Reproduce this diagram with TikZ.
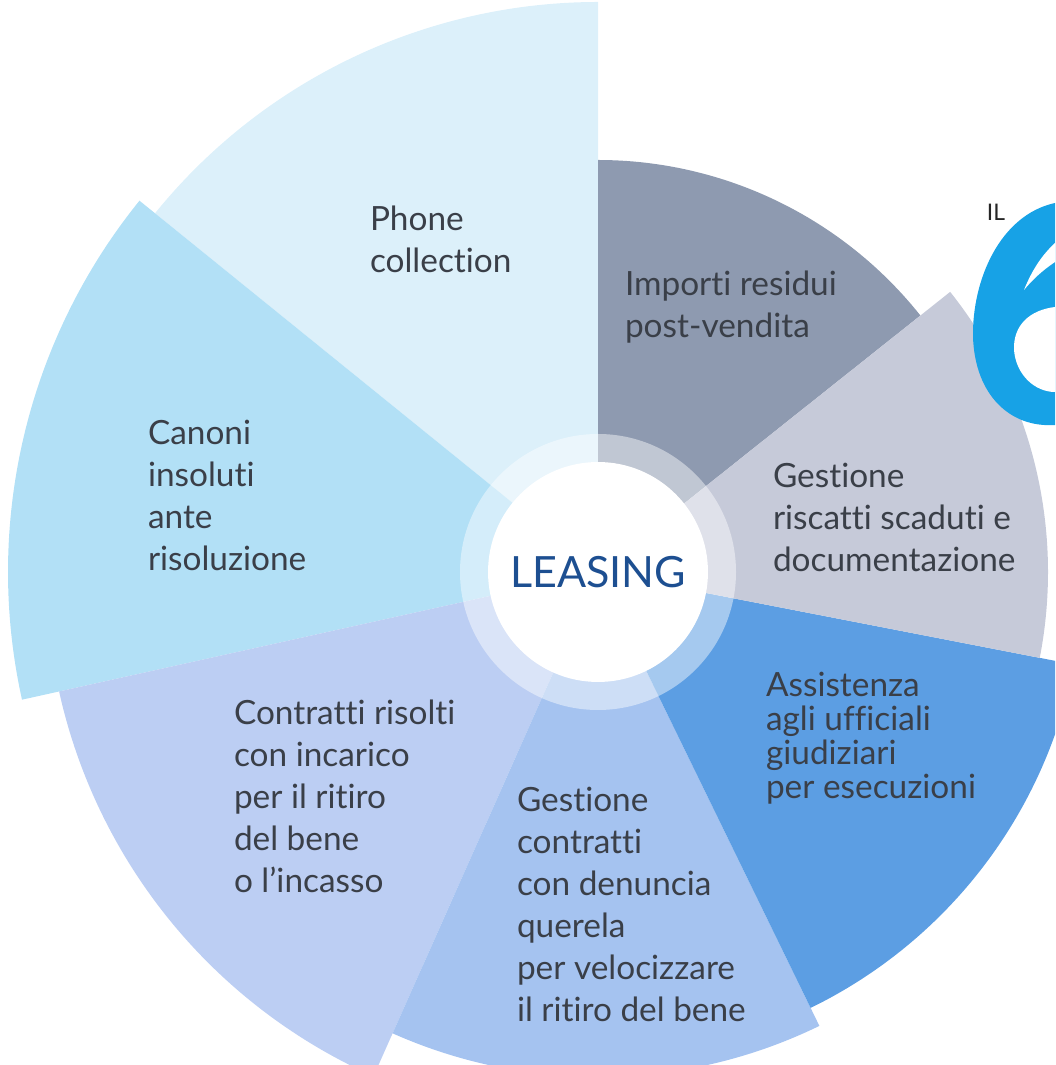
\documentclass[tikz,border=0pt]{standalone}
\usepackage{fontspec}
\setmainfont{Lato}[Ligatures=NoCommon]
\usepackage{xcolor}

\definecolor{phonefill}{HTML}{DCF0FA}
\definecolor{canonifill}{HTML}{B2E0F6}
\definecolor{risoltifill}{HTML}{BCCEF3}
\definecolor{querelafill}{HTML}{A5C3F0}
\definecolor{ufficialifill}{HTML}{5C9EE3}
\definecolor{riscattifill}{HTML}{C6CAD9}
\definecolor{importifill}{HTML}{8E9AB0}
\definecolor{inkgray}{HTML}{3A3F48}
\definecolor{leasingblue}{HTML}{1D4F91}
\definecolor{logocyan}{HTML}{17A2E6}

\newcommand{\wedgefont}{\fontsize{19}{24}\selectfont}

\begin{document}
\begin{tikzpicture}[x=0.02cm, y=0.02cm, outer sep=0pt]
\tikzstyle{wedgetext}=[
                  anchor=base west,
                  align=left,
                  inner sep=0pt,
                  text=inkgray,
                  font=\wedgefont]

\tikzstyle{hub}=[
                  circle,
                  fill=white,
                  minimum size=4.4cm,
                  inner sep=0pt,
                  text=leasingblue,
                  font=\fontsize{24.5}{28}\selectfont]

\useasboundingbox (0,0) rectangle (1055,1065);
\clip (0,0) rectangle (1055,1065);
\coordinate (hubc) at (598,493);

% slices, counter-clockwise from the top
\fill[phonefill]     (hubc) -- +(90:570)    arc[start angle=90,    end angle=141,   radius=570] -- cycle;
\fill[canonifill]    (hubc) -- +(141:590)   arc[start angle=141,   end angle=192.5, radius=590] -- cycle;
\fill[risoltifill]   (hubc) -- +(192.5:552) arc[start angle=192.5, end angle=246,   radius=552] -- cycle;
\fill[querelafill]   (hubc) -- +(246:505)   arc[start angle=246,   end angle=296,   radius=505] -- cycle;
\fill[ufficialifill] (hubc) -- +(296:485)   arc[start angle=296,   end angle=349,   radius=485] -- cycle;
\fill[importifill]   (hubc) -- +(38.5:412)  arc[start angle=38.5,  end angle=90,    radius=412] -- cycle;
\fill[riscattifill]  (hubc) -- +(-11:450)   arc[start angle=-11,   end angle=38.5,  radius=450] -- cycle;

% soft rim round the hub
\fill[white, opacity=0.45] (hubc) circle[radius=138];
\node[hub] (leasing) at (hubc) {LEASING};

% base west = baseline of the last line
\node[wedgetext] (phone)     at (370,792)  {Phone\\collection};
\node[wedgetext] (importi)   at (625,727)  {Importi residui\\post-vendita};
\node[wedgetext] (riscatti)  at (773,493)  {Gestione\\riscatti scaduti e\\documentazione};
\node[wedgetext] (canoni)    at (148,494)  {Canoni\\insoluti\\ante\\risoluzione};
\node[wedgetext, font=\fontsize{19}{19.5}\selectfont]
                 (ufficiali) at (766,266)  {Assistenza\\agli ufficiali\\giudiziari\\per esecuzioni};
\node[wedgetext] (risolti)   at (234,172)  {Contratti risolti\\con incarico\\per il ritiro\\del bene\\o l’incasso};
\node[wedgetext] (querela)   at (517,43)   {Gestione\\contratti\\con denuncia\\querela\\per velocizzare\\il ritiro del bene};

% logo at the right edge
\node[text=black!85, font=\fontsize{13}{15}\selectfont, inner sep=0pt] (il) at (996,853) {IL};
\fill[logocyan] (1055,862) .. controls (1000,850) and (972,785) .. (973,728)
                .. controls (975,670) and (1010,637) .. (1055,640) -- cycle;
\fill[white] (1055,758) .. controls (1030,755) and (1013,740) .. (1014,715)
             .. controls (1016,690) and (1035,673) .. (1055,673) -- cycle;
\fill[white] (1024,775) .. controls (1032,795) and (1042,810) .. (1055,822)
             -- (1055,803) .. controls (1043,795) and (1032,785) .. (1024,775) -- cycle;
\end{tikzpicture}
\end{document}
